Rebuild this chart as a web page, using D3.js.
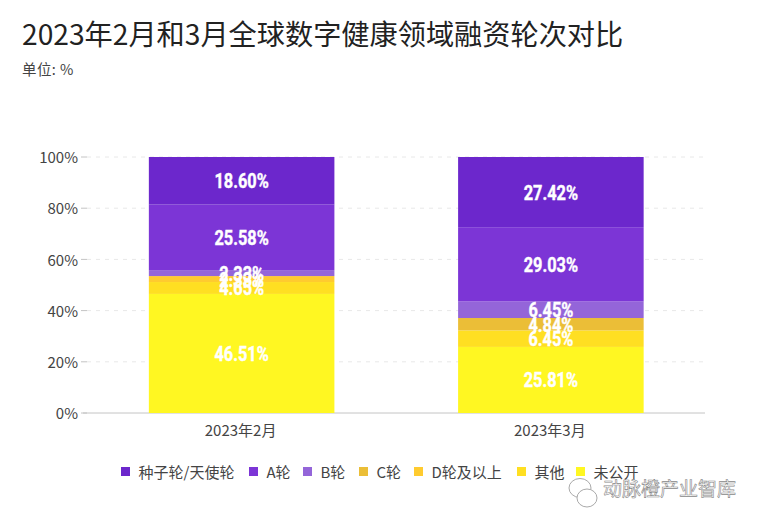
<!DOCTYPE html>
<html><head><meta charset="utf-8">
<script src="https://cdn.jsdelivr.net/npm/d3@7"></script>
<style>html,body{margin:0;padding:0;background:#fff}svg{display:block}text{font-family:"Noto Sans CJK SC","Noto Sans",sans-serif}</style>
</head><body><svg id="c" width="760" height="522"></svg>
<script>
const titleText = "2023年2月和3月全球数字健康领域融资轮次对比";
const unitText = "单位: %";
const watermarkText = "动脉橙产业智库";
const months = ["2023年2月","2023年3月"];
const seriesNames = ["未公开","其他","D轮及以上","C轮","B轮","A轮","种子轮/天使轮"];
const seriesColors = ["#fff722","#ffdf22","#ffcb2f","#ebbe37","#9465d9","#7c35d6","#6c27cc"];
const undisclosed = [46.51,25.81];
const other = [4.65,6.45];
const roundD = [2.33,0];
const roundC = [0,4.84];
const roundB = [2.33,6.45];
const roundA = [25.58,29.03];
const seed = [18.60,27.42];
const yTicks = [0,20,40,60,80,100];
const legendOrder = ["种子轮/天使轮","A轮","B轮","C轮","D轮及以上","其他","未公开"];
const legendX = [121,249,303,359,414,517,576];
const all = [undisclosed,other,roundD,roundC,roundB,roundA,seed];

const svg = d3.select("#c");
const x = d3.scaleBand().domain(months).range([87,705.5]).paddingInner(0.4).paddingOuter(0.2);
const y = d3.scaleLinear().domain([0,100]).range([413,157]);
const color = d3.scaleOrdinal(seriesNames,seriesColors);

svg.append("text").attr("x",22).attr("y",45).attr("font-size",28.2).attr("fill","#222").text(titleText);
svg.append("text").attr("x",22).attr("y",75).attr("font-size",14.5).attr("letter-spacing",0.4).attr("fill","#444").text(unitText);

const yAxis = svg.append("g").selectAll("g").data(yTicks).join("g").attr("transform",d=>`translate(0,${y(d)})`);
yAxis.filter(d=>d>0).append("line").attr("x1",87).attr("x2",703).attr("stroke","#e8e8e8").attr("stroke-dasharray","4 5");
yAxis.append("line").attr("x1",81).attr("x2",87).attr("stroke","#c4c4c4");
yAxis.append("text").attr("x",78).attr("y",1).attr("dy","0.35em").attr("text-anchor","end").attr("font-size",15).attr("fill","#444").text(d=>d+"%");
svg.append("line").attr("x1",83).attr("x2",705).attr("y1",y(0)).attr("y2",y(0)).attr("stroke","#c4c4c4");

const stackRows = months.map((m,i)=>{const r={month:m};seriesNames.forEach((s,j)=>r[s]=all[j][i]);return r;});
const stacked = d3.stack().keys(seriesNames)(stackRows);
stacked.forEach(layer=>{
  svg.append("g").selectAll("rect").data(layer).join("rect")
    .attr("x",d=>x(d.data.month)).attr("width",x.bandwidth())
    .attr("y",d=>y(d[1])).attr("height",d=>y(d[0])-y(d[1]))
    .attr("fill",color(layer.key));
});
stacked.forEach(layer=>{
  svg.append("g").selectAll("text").data(layer.filter(d=>d[1]-d[0]>0)).join("text")
    .attr("transform",d=>`translate(${x(d.data.month)+x.bandwidth()/2},${y((d[0]+d[1])/2)+0.5}) scale(0.86,1.05)`)
    .attr("dy","0.35em")
    .attr("text-anchor","middle").attr("font-size",19).attr("font-weight",700)
    .style("font-family","'Roboto',sans-serif").attr("fill","#fff")
    .attr("stroke","#fff").attr("stroke-width",0.4)
    .text(d=>(d[1]-d[0]).toFixed(2)+"%");
});

svg.append("g").selectAll("text").data(months).join("text")
  .attr("x",d=>x(d)+x.bandwidth()/2-1).attr("y",436).attr("text-anchor","middle").attr("font-size",15).attr("fill","#444").text(d=>d);

const lg = svg.append("g").selectAll("g").data(legendOrder).join("g").attr("transform",(d,i)=>`translate(${legendX[i]},467)`);
lg.append("rect").attr("width",9).attr("height",9).attr("fill",d=>color(d));
lg.append("text").attr("x",17.5).attr("y",11).attr("font-size",15).attr("fill","#444").text(d=>d);

const wm = svg.append("g").attr("transform","translate(568,478)").attr("fill","none").attr("stroke","#aaa");
wm.append("ellipse").attr("cx",12).attr("cy",10).attr("rx",11).attr("ry",9.5);
wm.append("ellipse").attr("cx",19).attr("cy",20).attr("rx",10).attr("ry",9).attr("fill","#fff");
svg.append("text").attr("x",603).attr("y",496).attr("font-size",19).attr("fill","#fff").attr("stroke","#888").attr("stroke-width",0.6).text(watermarkText);
</script></body></html>
